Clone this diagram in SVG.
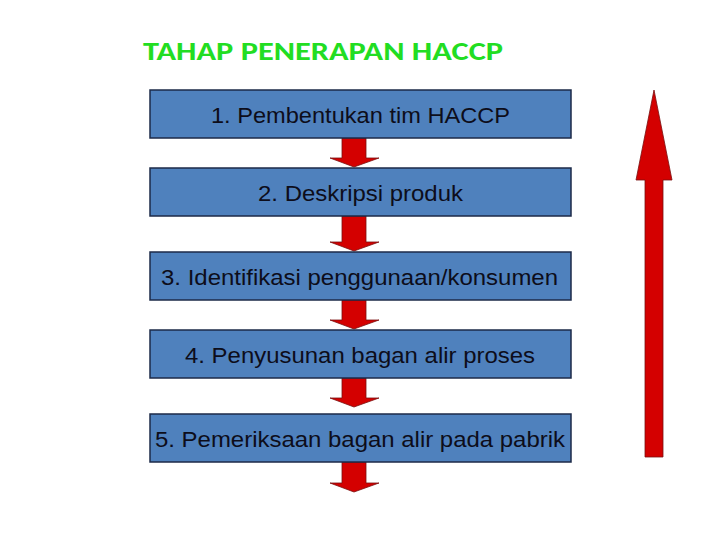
<svg xmlns="http://www.w3.org/2000/svg" width="720" height="540" viewBox="0 0 720 540">
<style>
.box{fill:#4f81bd;stroke:#1c2a48;stroke-width:1.5}
.lbl{font-family:"Liberation Sans",Arial,sans-serif;font-size:22px;fill:#0d0d1a;text-anchor:middle}
.arr{fill:#d40000;stroke:#7a1010;stroke-width:0.8}
</style>
<rect width="720" height="540" fill="#ffffff"/>
<text x="143" y="60" font-family="Carlito,'Open Sans','Liberation Sans',sans-serif" font-weight="bold" font-size="27" fill="#22dd22" textLength="360" lengthAdjust="spacingAndGlyphs">TAHAP PENERAPAN HACCP</text>
<g id="connectors">
<polygon class="arr" points="342,138 366,138 366,158 379,158 354,167 330,158 342,158"/>
<polygon class="arr" points="342,216 366,216 366,242 379,242 354,251 330,242 342,242"/>
<polygon class="arr" points="342,300 366,300 366,320 379,320 354,329 330,320 342,320"/>
<polygon class="arr" points="342,378 366,378 366,398 379,398 354,407 330,398 342,398"/>
<polygon class="arr" points="342,462 366,462 366,483 379,483 354,492 330,483 342,483"/>
<polygon class="arr" points="654,90 672,180 663,180 663,457 645,457 645,180 636,180"/>
</g>
<g id="n1"><rect class="box" x="150" y="90" width="421" height="48"/><text class="lbl" x="360.5" y="123" textLength="299" lengthAdjust="spacingAndGlyphs">1. Pembentukan tim HACCP</text></g>
<g id="n2"><rect class="box" x="150" y="168" width="421" height="48"/><text class="lbl" x="360.5" y="201" textLength="205" lengthAdjust="spacingAndGlyphs">2. Deskripsi produk</text></g>
<g id="n3"><rect class="box" x="150" y="252" width="421" height="48"/><text class="lbl" x="359.5" y="285" textLength="397" lengthAdjust="spacingAndGlyphs">3. Identifikasi penggunaan/konsumen</text></g>
<g id="n4"><rect class="box" x="150" y="330" width="421" height="48"/><text class="lbl" x="360" y="363" textLength="350" lengthAdjust="spacingAndGlyphs">4. Penyusunan bagan alir proses</text></g>
<g id="n5"><rect class="box" x="150" y="414" width="421" height="48"/><text class="lbl" x="360" y="447" textLength="410" lengthAdjust="spacingAndGlyphs">5. Pemeriksaan bagan alir pada pabrik</text></g>
</svg>
